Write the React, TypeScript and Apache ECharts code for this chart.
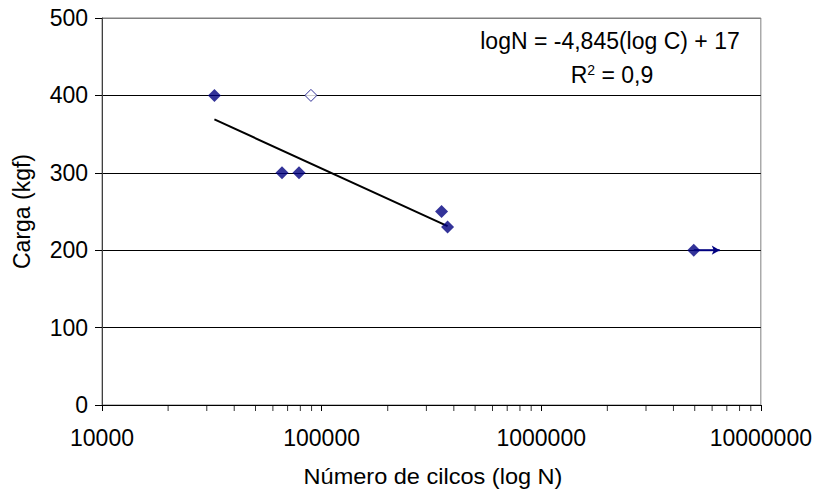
import React, { useEffect, useRef } from "react";
import * as echarts from "echarts";

const cyclesFailed = [32500, 66000, 78900, 351800, 374600];
const loadFailed = [400, 300, 300, 250, 230];
const cyclesOpen = [89400];
const loadOpen = [400];
const cyclesRunout = [4950000];
const loadRunout = [200];
const arrowEndCycles = [6500000];
const trendCycles = [32500, 374600];
const trendLoad = [369, 231];
const decades = [10000, 100000, 1000000];
const minorMultipliers = [2, 3, 4, 5, 6, 7, 8, 9];
const yTicks = [0, 100, 200, 300, 400, 500];

const FONT = "'Liberation Sans', Arial, sans-serif";
const NAVY = "#000080";

export default function App() {
  const ref = useRef<HTMLDivElement>(null);
  useEffect(() => {
    if (!ref.current) return;
    const chart = echarts.init(ref.current, undefined, { renderer: "svg" });
    const minorTicks: number[][] = [];
    decades.forEach((d) => minorMultipliers.forEach((m) => minorTicks.push([d * m, 0])));
    chart.setOption({
      animation: false,
      backgroundColor: "#fff",
      textStyle: { fontFamily: FONT },
      grid: {
        left: 102,
        right: 52,
        top: 18,
        bottom: 86,
        show: true,
        borderColor: "#808080",
        borderWidth: 1,
        backgroundColor: "transparent",
      },
      xAxis: {
        type: "log",
        logBase: 10,
        min: 10000,
        max: 10000000,
        axisLine: { show: true, lineStyle: { color: "#000", width: 1 } },
        axisTick: { show: true, length: 6, inside: false, lineStyle: { color: "#000" } },
        axisLabel: {
          fontSize: 23,
          color: "#000",
          margin: 21,
          fontFamily: FONT,
          formatter: (v: number) => String(Math.round(v)),
        },
        splitLine: { show: false },
      },
      yAxis: {
        type: "value",
        min: 0,
        max: 500,
        interval: 100,
        name: "Carga (kgf)",
        nameLocation: "middle",
        nameGap: 69,
        nameRotate: 90,
        nameTextStyle: { fontSize: 23, color: "#000", fontFamily: FONT },
        axisLine: { show: true, lineStyle: { color: "#404040", width: 1 } },
        axisTick: { show: true, length: 7, inside: false, lineStyle: { color: "#000" } },
        axisLabel: {
          fontSize: 23,
          color: "#000",
          margin: 14,
          fontFamily: FONT,
          formatter: (v: number) => (yTicks.includes(v) ? String(v) : ""),
        },
        splitLine: {
          show: true,
          lineStyle: { color: ["#000", "#000", "#000", "#000", "#000", "#808080"], width: 1 },
        },
      },
      graphic: [
        {
          type: "text",
          x: 433,
          y: 476,
          scaleX: 1.07,
          style: {
            text: "Número de cilcos (log N)",
            font: `22px ${FONT}`,
            fill: "#000",
            align: "center",
            verticalAlign: "middle",
          },
        },
        {
          type: "text",
          x: 610,
          y: 41,
          style: {
            text: "logN = -4,845(log C) + 17",
            font: `23px ${FONT}`,
            fill: "#000",
            align: "center",
            verticalAlign: "middle",
          },
        },
        {
          type: "text",
          x: 612,
          y: 75,
          style: {
            text: "R{s|2} = 0,9",
            font: `23px ${FONT}`,
            fill: "#000",
            align: "center",
            verticalAlign: "middle",
            rich: {
              s: { fontSize: 14, fontFamily: FONT, verticalAlign: "top", padding: [0, 0, 10, 0] },
            },
          },
        },
      ],
      series: [
        {
          type: "scatter",
          name: "minorTicks",
          silent: true,
          clip: false,
          symbol: "rect",
          symbolSize: [1, 6],
          symbolOffset: [0, 3],
          itemStyle: { color: "#000" },
          data: minorTicks,
          z: 1,
        },
        {
          type: "line",
          name: "trend",
          silent: true,
          symbol: "none",
          lineStyle: { color: "#000", width: 2 },
          data: trendCycles.map((c, i) => [c, trendLoad[i]]),
          z: 3,
        },
        {
          type: "line",
          name: "arrow",
          silent: true,
          lineStyle: { color: NAVY, width: 2 },
          itemStyle: { color: NAVY },
          data: [
            { value: [cyclesRunout[0], loadRunout[0]], symbol: "none" },
            { value: [arrowEndCycles[0], loadRunout[0]], symbol: "arrow", symbolSize: [7, 8], symbolRotate: -90, symbolOffset: [0, 0] },
          ],
          z: 3,
        },
        {
          type: "scatter",
          name: "failed",
          symbol: "diamond",
          symbolSize: 13,
          itemStyle: { color: NAVY },
          data: cyclesFailed.map((c, i) => [c, loadFailed[i]]),
          z: 4,
        },
        {
          type: "scatter",
          name: "runout",
          symbol: "diamond",
          symbolSize: 13,
          itemStyle: { color: NAVY },
          data: cyclesRunout.map((c, i) => [c, loadRunout[i]]),
          z: 4,
        },
        {
          type: "scatter",
          name: "open",
          symbol: "diamond",
          symbolSize: 12,
          itemStyle: { color: "#fff", borderColor: NAVY, borderWidth: 1 },
          data: cyclesOpen.map((c, i) => [c, loadOpen[i]]),
          z: 4,
        },
      ],
    });
    return () => chart.dispose();
  }, []);
  return <div ref={ref} style={{ width: 815, height: 491, position: "absolute", left: 0, top: 0 }} />;
}
